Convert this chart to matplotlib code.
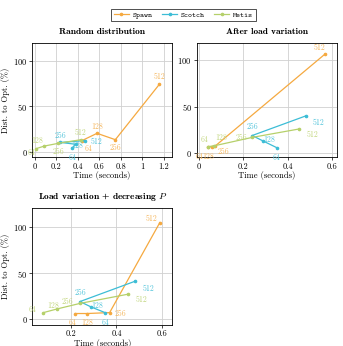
import matplotlib
matplotlib.use("Agg")
import matplotlib.pyplot as plt
from matplotlib.lines import Line2D

plt.rcParams['font.family'] = ['cmr10', 'DejaVu Serif']
plt.rcParams['mathtext.fontset'] = 'cm'
plt.rcParams['axes.formatter.use_mathtext'] = True

series_names = ["Spawn", "Scotch", "Metis"]
colors = ["#f5a940", "#3cbdd6", "#b5d06a"]
label_colors = ["#f5b65c", "#52c4da", "#c2d67e"]
procs = ["64", "128", "256", "512"]

# panel 1: Random distribution
p1_time = {
    "Spawn": [0.44, 0.58, 0.75, 1.16],
    "Scotch": [0.35, 0.38, 0.24, 0.47],
    "Metis": [0.01, 0.09, 0.22, 0.43],
}
p1_dist = {
    "Spawn": [12, 20, 13, 74],
    "Scotch": [4, 8, 10, 12],
    "Metis": [3, 6, 9, 13],
}
# panel 2: After load variation
p2_time = {
    "Spawn": [0.04, 0.06, 0.075, 0.565],
    "Scotch": [0.35, 0.29, 0.24, 0.48],
    "Metis": [0.04, 0.07, 0.24, 0.45],
}
p2_dist = {
    "Spawn": [7, 7, 8, 106],
    "Scotch": [6, 13, 19, 40],
    "Metis": [7, 8, 17, 26],
}
# panel 3: Load variation + decreasing P
p3_time = {
    "Spawn": [0.22, 0.27, 0.37, 0.59],
    "Scotch": [0.35, 0.29, 0.24, 0.48],
    "Metis": [0.08, 0.14, 0.24, 0.45],
}
p3_dist = {
    "Spawn": [6, 6, 7, 105],
    "Scotch": [7, 13, 19, 41],
    "Metis": [7, 11, 17, 27],
}

# label offsets (points) -- style only
off1 = {
    "Spawn": [(5, -6), (0, 5), (0, -6), (0, 5)],
    "Scotch": [(0, -7), (1, -1), (0, 5), (8, -1)],
    "Metis": [(-3, -3), (-5, 4), (0, -6), (0, 5)],
}
off2 = {
    "Spawn": [(-6, -7), (-3, -7), (6, -4), (-4, 5)],
    "Scotch": [(0, -7), (4, 1), (0, 6), (9, -5)],
    "Metis": [(-2, 5), (5, 6), (-8, 0), (10, -4)],
}
off3 = {
    "Spawn": [(-2, -7), (0, -7), (8, -1), (-6, 3)],
    "Scotch": [(0, -7), (4, 1), (0, 6), (10, -5)],
    "Metis": [(-8, 2), (-3, 2), (-9, 1), (10, -4)],
}

fig = plt.figure(figsize=(3.43, 3.46), dpi=100)
ax1 = fig.add_axes([0.094, 0.545, 0.407, 0.330])
ax2 = fig.add_axes([0.573, 0.545, 0.409, 0.330])
ax3 = fig.add_axes([0.094, 0.062, 0.408, 0.336])

panels = [
    (ax1, p1_time, p1_dist, off1, "Random distribution", (-0.022, 1.275), (-6.5, 119), [0, 0.2, 0.4, 0.6, 0.8, 1, 1.2], True),
    (ax2, p2_time, p2_dist, off2, "After load variation", (-0.01, 0.62), (-4.5, 118), [0, 0.2, 0.4, 0.6], False),
    (ax3, p3_time, p3_dist, off3, r"Load variation + decreasing $P$", (0.031, 0.644), (-6, 120.5), [0.2, 0.4, 0.6], True),
]

for ax, tdata, ddata, offs, title, xl, yl, xt, ylab in panels:
    for name, c, lc in zip(series_names, colors, label_colors):
        ax.plot(tdata[name], ddata[name], color=c, lw=0.9, marker='o', ms=1.6, zorder=3)
        for i, p in enumerate(procs):
            ax.annotate(p, (tdata[name][i], ddata[name][i]), xytext=offs[name][i],
                        textcoords='offset points', ha='center', va='center',
                        fontsize=5.6, color=lc, zorder=4)
    ax.set_xlim(*xl)
    ax.set_ylim(*yl)
    ax.set_xticks(xt)
    ax.set_xticklabels([("%g" % v) for v in xt])
    ax.set_yticks([0, 50, 100])
    ax.grid(True, color='#d0d0d0', lw=0.6)
    ax.set_axisbelow(True)
    ax.tick_params(labelsize=6, length=2, width=0.5, pad=1.5)
    for s in ax.spines.values():
        s.set_linewidth(0.6)
    ax.set_xlabel("Time (seconds)", fontsize=6.2, labelpad=0.5)
    if ylab:
        ax.set_ylabel("Dist. to Opt. (%)", fontsize=6.2, labelpad=2)
    ax.set_title(title, fontsize=6.8, fontweight='bold', pad=7,
                 family=['cmb10', 'DejaVu Serif'])

handles = [Line2D([0], [0], color=c, lw=0.9, marker='o', ms=1.6) for c in colors]
leg = fig.legend(handles, series_names, loc='center', bbox_to_anchor=(0.535, 0.957),
                 ncol=3, frameon=True, fancybox=False, edgecolor='black',
                 handlelength=2.0, columnspacing=1.2, handletextpad=0.5, borderpad=0.3,
                 prop={'family': ['cmtt10', 'DejaVu Sans Mono'], 'size': 5.5})
leg.get_frame().set_linewidth(0.6)

fig.savefig("out.png", dpi=100)
